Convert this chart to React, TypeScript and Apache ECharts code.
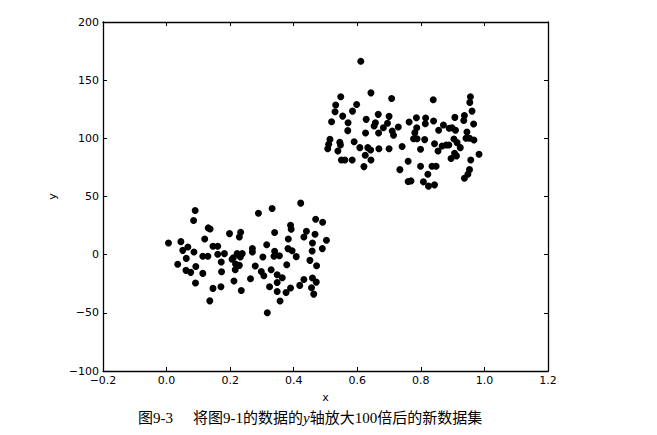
import React, { useEffect, useRef } from "react";
import * as echarts from "echarts";

// Cluster 1 (lower-left)
const cluster1X = [
  0.006, 0.045, 0.051, 0.067, 0.086, 0.062, 0.035, 0.061, 0.076, 0.092, 0.091, 0.114,
  0.090, 0.085, 0.131, 0.137, 0.120, 0.114, 0.130, 0.146, 0.161, 0.161, 0.182, 0.172,
  0.173, 0.146, 0.171, 0.136, 0.198, 0.233, 0.229, 0.210, 0.206, 0.222, 0.238, 0.232,
  0.217, 0.229, 0.216, 0.212, 0.235, 0.264, 0.270, 0.270, 0.279, 0.289, 0.332, 0.315,
  0.303, 0.298, 0.306, 0.329, 0.340, 0.340, 0.338, 0.355, 0.348, 0.364, 0.348, 0.324,
  0.348, 0.357, 0.317, 0.422, 0.390, 0.392, 0.383, 0.382, 0.395, 0.408, 0.378, 0.390,
  0.376, 0.419, 0.432, 0.440, 0.432, 0.469, 0.491, 0.467, 0.459, 0.458, 0.490, 0.503,
  0.451, 0.472, 0.459, 0.471, 0.456, 0.463,
];
const cluster1Y = [
  10.1, 11.2, 3.7, 6.6, 2.3, -3.2, -8.3, -13.5, -15.2, -10.1, -24.4, -16.1,
  37.9, 29.3, 23.0, 22.1, 13.5, -1.4, -1.4, 7.2, 7.2, 0.3, 0.9, -6.3,
  -14.7, -29.0, -27.6, -39.7, 18.1, 19.3, 15.2, -2.6, -4.0, 0.9, 0.9, -2.0,
  -8.0, -9.2, -12.9, -22.7, -30.8, -20.7, 5.2, 2.3, -9.8, 35.6, 39.7, 8.6,
  -2.0, -14.4, -18.1, -12.9, 19.0, 2.9, -1.4, -0.9, -17.2, -19.8, -23.9, -27.6,
  -31.6, -39.9, -50.0, 44.3, 25.3, 21.8, 13.5, 5.2, 3.4, -1.7, -8.6, -28.7,
  -32.5, -26.4, -21.3, 20.1, 15.2, 30.5, 27.9, 17.5, 10.1, 3.2, 5.2, 12.4,
  -4.9, -9.5, -20.1, -23.6, -28.5, -33.9,
];

// Cluster 2 (upper-right)
const cluster2X = [
  0.611, 0.643, 0.548, 0.532, 0.530, 0.598, 0.585, 0.554, 0.519, 0.571, 0.570, 0.514,
  0.510, 0.507, 0.545, 0.547, 0.539, 0.550, 0.561, 0.584, 0.590, 0.608, 0.621, 0.625,
  0.633, 0.642, 0.643, 0.628, 0.626, 0.653, 0.657, 0.666, 0.667, 0.668, 0.682, 0.695,
  0.700, 0.700, 0.708, 0.710, 0.714, 0.729, 0.741, 0.734, 0.760, 0.760, 0.769, 0.763,
  0.786, 0.787, 0.781, 0.777, 0.788, 0.799, 0.799, 0.808, 0.814, 0.815, 0.812, 0.822,
  0.824, 0.839, 0.840, 0.835, 0.848, 0.843, 0.843, 0.856, 0.854, 0.871, 0.867, 0.880,
  0.889, 0.888, 0.898, 0.909, 0.907, 0.904, 0.914, 0.924, 0.906, 0.912, 0.895, 0.935,
  0.937, 0.945, 0.942, 0.953, 0.967, 0.956, 0.954, 0.961, 0.966, 0.957, 0.953, 0.948,
  0.937, 0.983,
];
const cluster2Y = [
  166.3, 139.1, 135.7, 128.6, 122.9, 129.1, 123.4, 119.1, 114.3, 113.4, 106.6, 99.1,
  94.9, 91.1, 96.6, 94.3, 89.1, 81.4, 81.4, 81.4, 97.1, 92.0, 75.7, 85.4,
  92.0, 90.0, 81.4, 116.3, 104.6, 110.6, 113.4, 120.6, 104.6, 91.1, 109.1, 112.9,
  118.9, 91.1, 134.3, 106.3, 102.6, 109.7, 92.9, 73.1, 80.3, 62.9, 63.4, 114.0,
  117.7, 109.1, 104.9, 99.7, 99.7, 90.6, 76.0, 62.6, 112.6, 117.4, 98.9, 69.1,
  58.9, 133.1, 114.9, 76.0, 76.0, 60.0, 95.4, 106.9, 89.1, 111.4, 93.4, 94.3,
  108.6, 94.3, 109.1, 106.9, 118.0, 99.4, 96.3, 92.0, 87.1, 84.9, 82.6, 115.4,
  119.7, 105.4, 100.0, 100.0, 98.6, 135.7, 130.9, 123.4, 112.3, 81.4, 73.1, 69.1,
  65.7, 86.3,
];

const xMin = -0.2;
const xMax = 1.2;
const xStep = 0.2;
const yMin = -100;
const yMax = 200;
const yStep = 50;

const captionPrefix = "图9-3";
const captionA = "将图9-1的数据的";
const captionItalic = "y";
const captionB = "轴放大100倍后的新数据集";

const fmtMinus = (s: string) => s.replace("-", "\u2212");

export default function App() {
  const ref = useRef<HTMLDivElement>(null);
  useEffect(() => {
    if (!ref.current) return;
    const chart = echarts.init(ref.current, null, { renderer: "svg" });
    const points = [
      ...cluster1X.map((x, i) => [x, cluster1Y[i]]),
      ...cluster2X.map((x, i) => [x, cluster2Y[i]]),
    ];
    const labelFont = {
      color: "#000",
      fontFamily: "DejaVu Sans",
      fontSize: 11,
    };
    const tickStyle = { show: true, inside: true, length: 4, lineStyle: { color: "#000", width: 1 } };
    const lineStyle = { show: true, lineStyle: { color: "#000", width: 1.3 } };
    const captionFont = "Liberation Serif, Noto Sans CJK SC";
    chart.setOption({
      animation: false,
      backgroundColor: "#fff",
      grid: { left: 103, right: 109, top: 22, bottom: 64, containLabel: false },
      xAxis: [
        {
          type: "value",
          min: xMin,
          max: xMax,
          interval: xStep,
          position: "bottom",
          axisLine: { ...lineStyle, onZero: false },
          axisTick: tickStyle,
          splitLine: { show: false },
          axisLabel: {
            ...labelFont,
            margin: 4,
            formatter: (v: number) => fmtMinus(v.toFixed(1)),
          },
          name: "x",
          nameLocation: "middle",
          nameGap: 21,
          nameTextStyle: { ...labelFont, fontSize: 11 },
        },
        {
          type: "value",
          min: xMin,
          max: xMax,
          interval: xStep,
          position: "top",
          axisLine: { ...lineStyle, onZero: false },
          axisTick: tickStyle,
          splitLine: { show: false },
          axisLabel: { show: false },
        },
      ],
      yAxis: [
        {
          type: "value",
          min: yMin,
          max: yMax,
          interval: yStep,
          position: "left",
          axisLine: { ...lineStyle, onZero: false },
          axisTick: tickStyle,
          splitLine: { show: false },
          axisLabel: {
            ...labelFont,
            margin: 4,
            formatter: (v: number) => fmtMinus(String(v)),
          },
          name: "y",
          nameLocation: "middle",
          nameGap: 38,
          nameRotate: 90,
          nameTextStyle: { ...labelFont, fontSize: 11 },
        },
        {
          type: "value",
          min: yMin,
          max: yMax,
          interval: yStep,
          position: "right",
          axisLine: { ...lineStyle, onZero: false },
          axisTick: tickStyle,
          splitLine: { show: false },
          axisLabel: { show: false },
        },
      ],
      series: [
        {
          type: "scatter",
          xAxisIndex: 0,
          yAxisIndex: 0,
          data: points,
          symbol: "circle",
          symbolSize: 7,
          itemStyle: { color: "#000", opacity: 1 },
        },
      ],
      graphic: [
        {
          type: "text",
          left: 138,
          top: 410,
          style: {
            text: `{a|${captionPrefix}}{gap|}{a|${captionA}}{i|${captionItalic}}{a|${captionB}}`,
            rich: {
              a: { fontFamily: captionFont, fontSize: 15, fill: "#000" },
              i: { fontFamily: "Liberation Serif", fontStyle: "italic", fontSize: 15, fill: "#000" },
              gap: { width: 20 },
            },
          },
        },
      ],
    });
    return () => chart.dispose();
  }, []);
  return (
    <div
      ref={ref}
      style={{ position: "fixed", left: 0, top: 0, width: 657, height: 435, background: "#fff" }}
    />
  );
}
